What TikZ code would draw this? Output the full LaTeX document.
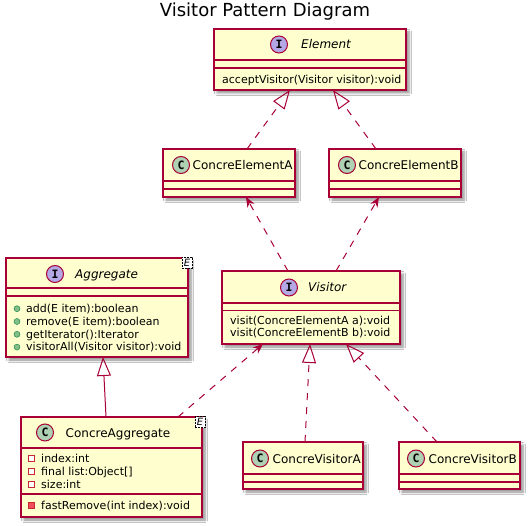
\documentclass[tikz,border=0pt]{standalone}
\usepackage{fontspec}
\setmainfont{DejaVu Sans}
\setmonofont{DejaVu Sans Mono}
\usetikzlibrary{arrows.meta,shadows.blur}
\definecolor{umlfill}{HTML}{FEFECE}
\definecolor{umlred}{HTML}{A80036}
\definecolor{ifill}{HTML}{B4A7E5}
\definecolor{cfill}{HTML}{ADD1B2}
\definecolor{pubfill}{HTML}{84BE84}
\definecolor{publine}{HTML}{038048}
\definecolor{privfill}{HTML}{F24D5C}
\definecolor{privline}{HTML}{C82930}
\begin{document}
\begin{tikzpicture}[x=1pt, y=-1pt,
  cls/.style={rectangle, draw=umlred, line width=1.5pt, fill=umlfill, inner sep=0pt, outer sep=0pt, blur shadow={shadow xshift=3pt, shadow yshift=-3pt, shadow blur radius=2.5pt, shadow blur steps=6, shadow opacity=45}},
  sep/.style={draw=umlred, line width=1.5pt},
  spot/.style={circle, draw=umlred, line width=1pt, fill=#1, minimum size=17pt, inner sep=0pt, font=\fontsize{11.5}{11.5}\selectfont\ttfamily\bfseries},
  cname/.style={anchor=base west, inner sep=0pt, font=\fontsize{12}{14}\selectfont},
  iname/.style={cname, font=\fontsize{12}{14}\selectfont\itshape},
  member/.style={anchor=base west, inner sep=0pt, font=\fontsize{11}{13}\selectfont},
  pub/.style={circle, draw=publine, fill=pubfill, minimum size=6pt, inner sep=0pt},
  privattr/.style={rectangle, draw=privline, line width=0.8pt, fill=white, minimum size=6pt, inner sep=0pt},
  privop/.style={privattr, fill=privfill},
  gtag/.style={draw=black, dash pattern=on 2pt off 1pt, fill=white, inner sep=0pt, minimum width=10pt, minimum height=11pt, font=\fontsize{10}{10}\selectfont\itshape},
  dashline/.style={dash pattern=on 7pt off 7pt},
  realize/.style={draw=umlred, line width=1pt, -{Triangle[open, length=19pt, width=14pt]}},
  depend/.style={draw=umlred, line width=1pt, dashline, -{Stealth[length=10pt, width=8pt, inset=3pt]}}]
  \path[fill=white] (0,0) rectangle (530,526);
  \node[font=\fontsize{18}{20}\selectfont, anchor=base, inner sep=0pt] (title) at (265,17) {Visitor Pattern Diagram};

  \node[cls, minimum width=192pt, minimum height=61pt] (element) at (310,59.5) {};
  \node[cls, minimum width=132pt, minimum height=48pt] (cea) at (229,173) {};
  \node[cls, minimum width=132pt, minimum height=48pt] (ceb) at (395,173) {};
  \node[cls, minimum width=178pt, minimum height=73pt] (visitor) at (311,307.5) {};
  \node[cls, minimum width=182pt, minimum height=99pt] (aggregate) at (97,307.5) {};
  \node[cls, minimum width=181pt, minimum height=100pt] (ca) at (111.5,467) {};
  \node[cls, minimum width=120pt, minimum height=47pt] (cva) at (303,465.5) {};
  \node[cls, minimum width=121pt, minimum height=47pt] (cvb) at (459.5,465.5) {};
  \foreach \n/\a/\b in {element/31/39, cea/32/40, ceb/32/40, visitor/32/39.5, aggregate/30/38, ca/31/77, cva/32/40, cvb/32/40}{
    \draw[sep] ([yshift=-\a pt]\n.north west) -- ([yshift=-\a pt]\n.north east);
    \draw[sep] ([yshift=-\b pt]\n.north west) -- ([yshift=-\b pt]\n.north east);
  }

  \node[spot=ifill] (elementspot) at (279,44.5) {I};
  \node[iname] (elementname) at (301,49) {Element};
  \node[member] (elementop) at (222,83.5) {acceptVisitor(Visitor visitor):void};

  \node[spot=cfill] (ceaspot) at (181,165) {C};
  \node[cname] (ceaname) at (192.5,169.5) {ConcreElementA};
  \node[spot=cfill] (cebspot) at (347,165) {C};
  \node[cname] (cebname) at (358.5,169.5) {ConcreElementB};

  \node[spot=ifill] (visitorspot) at (289,287.5) {I};
  \node[iname] (visitorname) at (308,292) {Visitor};
  \node[member] (visitorop1) at (230,324.5) {visit(ConcreElementA a):void};
  \node[member] (visitorop2) at (230,336.5) {visit(ConcreElementB b):void};

  \node[spot=ifill] (aggregatespot) at (55,274) {I};
  \node[iname] (aggregatename) at (75,278.5) {Aggregate};
  \node[gtag] (aggregatetag) at (187,262.5) {E};
  \foreach \t [count=\i] in {add(E item):boolean, remove(E item):boolean, getIterator():Iterator, visitorAll(Visitor visitor):void}{
    \node[pub] (aggregatepub\i) at (17,295.9+12.8*\i) {};
    \node[member] (aggregateop\i) at (26,299.7+12.8*\i) {\t};
  }

  \node[spot=cfill] (caspot) at (45,432.5) {C};
  \node[cname] (caname) at (65.5,437) {ConcreAggregate};
  \node[gtag] (catag) at (200,422) {E};
  \foreach \t [count=\i] in {index:int, final list:Object[], size:int}{
    \node[privattr] (capriv\i) at (31,445+13.2*\i) {};
    \node[member] (caattr\i) at (41,448.8+13.2*\i) {\t};
  }
  \node[privop] (caprivop) at (31,505.5) {};
  \node[member] (caop) at (41,509.3) {fastRemove(int index):void};

  \node[spot=cfill] (cvaspot) at (260,458.5) {C};
  \node[cname] (cvaname) at (272.5,463) {ConcreVisitorA};
  \node[spot=cfill] (cvbspot) at (416,458.5) {C};
  \node[cname] (cvbname) at (428.5,463) {ConcreVisitorB};

  \draw[realize, dashline] ([xshift=18pt]cea.north) -- ([xshift=-20pt]element.south);
  \draw[realize, dashline] ([xshift=-19pt]ceb.north) -- ([xshift=23pt]element.south);
  \draw[depend] ([xshift=-23pt]visitor.north) -- ([xshift=17pt]cea.south);
  \draw[depend] ([xshift=25pt]visitor.north) -- ([xshift=-16pt]ceb.south);
  \draw[realize] ([xshift=-5.5pt]ca.north) -- ([xshift=6pt]aggregate.south);
  \draw[depend] ([xshift=66.5pt]ca.north) -- ([xshift=-48pt]visitor.south);
  \draw[realize, dashline] ([xshift=2pt]cva.north) -- ([xshift=-1pt]visitor.south);
  \draw[realize, dashline] ([xshift=-22.5pt]cvb.north) -- ([xshift=35pt]visitor.south);
\end{tikzpicture}
\end{document}
